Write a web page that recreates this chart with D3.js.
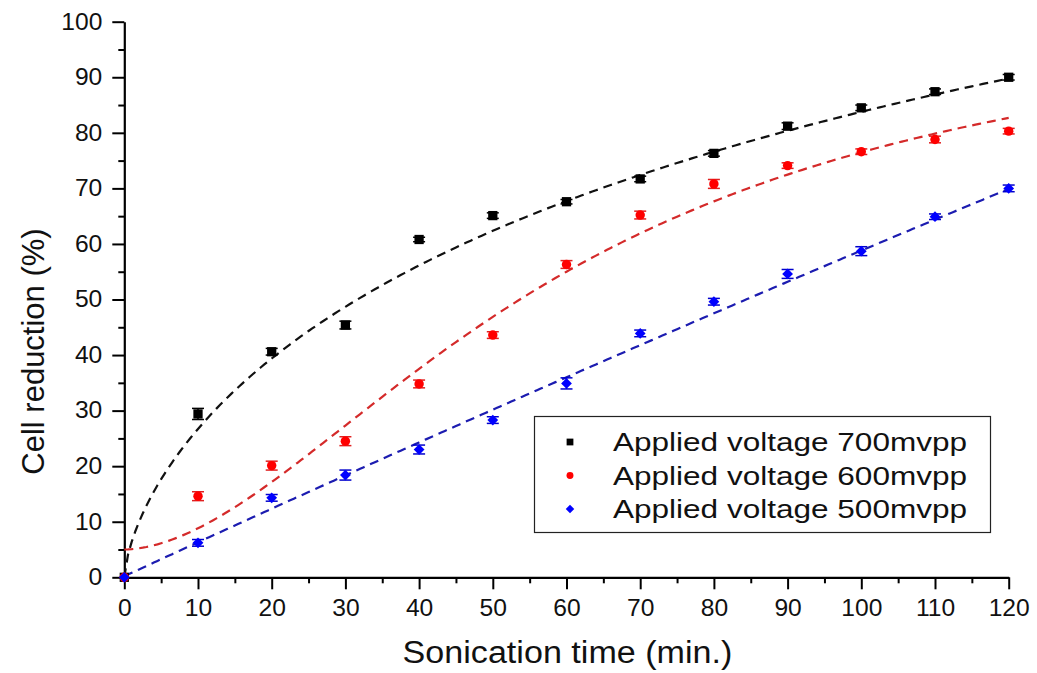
<!DOCTYPE html>
<html>
<head>
<meta charset="utf-8">
<script src="https://cdn.jsdelivr.net/npm/d3@7"></script>
<style>
  html, body { margin: 0; padding: 0; background: #fff; }
  svg { display: block; font-family: "Liberation Sans", Arial, sans-serif; }
</style>
</head>
<body>
<svg id="chart" width="1037" height="673"></svg>
<script>
// Sonication time (min.)
const times = [0, 10, 20, 30, 40, 50, 60, 70, 80, 90, 100, 110, 120];

// Cell reduction (%) for each applied voltage, with error-bar half widths
const v700 = [0, 29.4, 40.6, 45.4, 60.8, 65.1, 67.6, 71.7, 76.3, 81.2, 84.5, 87.4, 90.0];
const v700err = [0, 1.0, 0.6, 0.7, 0.4, 0.5, 0.4, 0.5, 0.5, 0.6, 0.5, 0.5, 0.5];
const v600 = [0, 14.6, 20.1, 24.5, 34.8, 43.6, 56.3, 65.2, 70.8, 74.1, 76.6, 78.8, 80.3];
const v600err = [0, 0.8, 0.8, 0.8, 0.7, 0.6, 0.7, 0.7, 0.8, 0.5, 0.5, 0.6, 0.5];
const v500 = [0, 6.2, 14.3, 18.4, 23.0, 28.3, 34.9, 43.9, 49.6, 54.6, 58.7, 64.9, 70.0];
const v500err = [0, 0.6, 0.6, 0.9, 0.8, 0.6, 1.0, 0.6, 0.6, 0.8, 0.8, 0.5, 0.6];

const seriesNames = ["Applied voltage 700mvpp", "Applied voltage 600mvpp", "Applied voltage 500mvpp"];

// Fitted trend parameters
const fit700 = { V: 200, k: 163, n: 0.67 };            // Hill
const fit600 = { y0: 5, V: 100, k: 60, n: 1.8 };       // Hill with offset
const fit500 = { c0: 0.2, c1: 0.6125, c2: -0.000264 }; // polynomial

const xTicks = [0, 10, 20, 30, 40, 50, 60, 70, 80, 90, 100, 110, 120];
const yTicks = [0, 10, 20, 30, 40, 50, 60, 70, 80, 90, 100];

const svg = d3.select("#chart");
const x = d3.scaleLinear().domain([0, 120]).range([124.3, 1008.7]);
const y = d3.scaleLinear().domain([0, 100]).range([577.3, 21.7]);

// stretch text horizontally to a given factor
function stretch(sel, factor) {
  sel.each(function () {
    const w = this.getComputedTextLength();
    d3.select(this).attr("textLength", w * factor).attr("lengthAdjust", "spacingAndGlyphs");
  });
}

// ---- axes ----
const minorX = d3.range(5, 120, 10);
const minorY = d3.range(5, 100, 10);

const gx = svg.append("g").attr("transform", `translate(0,${y(0)})`);
gx.call(d3.axisBottom(x).tickValues(xTicks).tickSize(12).tickSizeOuter(0).tickPadding(10).tickFormat(d3.format("d")));
gx.append("g").call(d3.axisBottom(x).tickValues(minorX).tickSize(6).tickFormat("")).select(".domain").remove();

const gy = svg.append("g").attr("transform", `translate(${x(0)},0)`);
gy.call(d3.axisLeft(y).tickValues(yTicks).tickSize(12).tickSizeOuter(0).tickPadding(10).tickFormat(d3.format("d")));
gy.append("g").call(d3.axisLeft(y).tickValues(minorY).tickSize(6).tickFormat("")).select(".domain").remove();

svg.selectAll(".domain").attr("stroke", "#000").attr("stroke-width", 2.2);
svg.selectAll(".tick line").attr("stroke", "#000").attr("stroke-width", 2);
svg.selectAll(".tick text").attr("fill", "#111").attr("font-size", 23)
  .attr("font-family", "\"Liberation Sans\", Arial, sans-serif");
gx.selectAll(".tick text").attr("dy", "0.72em");
stretch(svg.selectAll(".tick text"), 1.07);

// ---- axis titles ----
const xt = svg.append("text")
  .attr("x", (x(0) + x(120)) / 2 + 1).attr("y", 663)
  .attr("text-anchor", "middle").attr("font-size", 31).attr("fill", "#111")
  .text("Sonication time (min.)");
stretch(xt, 1.1);

svg.append("text")
  .attr("transform", `translate(44,${(y(0) + y(100)) / 2 + 52}) rotate(-90)`)
  .attr("text-anchor", "middle").attr("font-size", 31).attr("fill", "#111")
  .text("Cell reduction (%)");

// ---- fitted curves ----
const tSamples = d3.range(0, 120.01, 0.5);
const curve700 = tSamples.map(t => [t, fit700.V * Math.pow(t, fit700.n) / (Math.pow(fit700.k, fit700.n) + Math.pow(t, fit700.n))]);
const curve600 = tSamples.map(t => [t, fit600.y0 + fit600.V * Math.pow(t, fit600.n) / (Math.pow(fit600.k, fit600.n) + Math.pow(t, fit600.n))]);
const curve500 = tSamples.map(t => [t, fit500.c0 + fit500.c1 * t + fit500.c2 * t * t]);

const line = d3.line().x(d => x(d[0])).y(d => y(d[1]));
const fits = [
  { data: curve700, color: "#111111" },
  { data: curve600, color: "#d42a2a" },
  { data: curve500, color: "#1c1cb0" }
];
svg.append("g").selectAll("path").data(fits).join("path")
  .attr("d", d => line(d.data))
  .attr("fill", "none")
  .attr("stroke", d => d.color)
  .attr("stroke-width", 2.2)
  .attr("stroke-dasharray", "9,6");

// ---- data points with error bars ----
// diamonds are squares turned by 45 degrees
const series = [
  { vals: v700, errs: v700err, color: "#000000", bar: "#000000", symbol: d3.symbolSquare, size: 86, rot: 0 },
  { vals: v600, errs: v600err, color: "#ff0000", bar: "#e02020", symbol: d3.symbolCircle, size: 70, rot: 0 },
  { vals: v500, errs: v500err, color: "#0000ff", bar: "#0000cc", symbol: d3.symbolSquare, size: 58, rot: 45 }
];

series.forEach(s => {
  const g = svg.append("g");
  const pts = times.map((t, i) => ({ t, v: s.vals[i], e: s.errs[i] }));
  const eb = g.selectAll("g.eb").data(pts.filter(p => p.e > 0)).join("g");
  eb.append("line")
    .attr("x1", d => x(d.t)).attr("x2", d => x(d.t))
    .attr("y1", d => y(d.v - d.e)).attr("y2", d => y(d.v + d.e))
    .attr("stroke", s.bar).attr("stroke-width", 1.5);
  [-1, 1].forEach(sign => {
    eb.append("line")
      .attr("x1", d => x(d.t) - 6).attr("x2", d => x(d.t) + 6)
      .attr("y1", d => y(d.v + sign * d.e)).attr("y2", d => y(d.v + sign * d.e))
      .attr("stroke", s.bar).attr("stroke-width", 1.5);
  });
  g.selectAll("path").data(pts).join("path")
    .attr("transform", d => `translate(${x(d.t)},${y(d.v)}) rotate(${s.rot})`)
    .attr("d", d3.symbol().type(s.symbol).size(s.size))
    .attr("fill", s.color);
});

// ---- legend ----
const lg = svg.append("g");
lg.append("rect")
  .attr("x", 534.5).attr("y", 416.5).attr("width", 456).attr("height", 116)
  .attr("fill", "#fff").attr("stroke", "#222").attr("stroke-width", 1.2);
const rowY = d3.scaleLinear().domain([0, 2]).range([442, 509]);
const legendSizes = [46, 38, 36];
seriesNames.forEach((name, i) => {
  lg.append("path")
    .attr("transform", `translate(570,${rowY(i)}) rotate(${series[i].rot})`)
    .attr("d", d3.symbol().type(series[i].symbol).size(legendSizes[i]))
    .attr("fill", series[i].color);
  lg.append("text")
    .attr("x", 613).attr("y", rowY(i) + 9)
    .attr("font-size", 25.5).attr("fill", "#111")
    .attr("textLength", 354).attr("lengthAdjust", "spacingAndGlyphs")
    .text(name);
});
</script>
</body>
</html>
